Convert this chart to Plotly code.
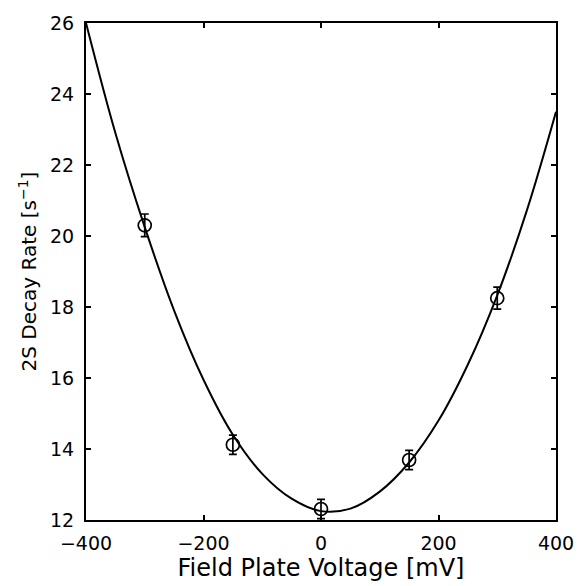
import plotly.graph_objects as go

# Measured data points (field plate voltage in mV, decay rate in s^-1)
voltage = [-300, -150, 0, 150, 300]
rate = [20.3, 14.12, 12.31, 13.69, 18.25]
rate_err = [0.32, 0.27, 0.27, 0.27, 0.31]

# Fit curve
curve_v = [-400, -350, -300, -250, -200, -150, -100, -50, 0, 50, 100, 150, 200, 250, 300, 350, 400]
curve_r = [26.0, 22.9, 20.25, 17.9, 15.95, 14.4, 13.3, 12.6, 12.25, 12.32, 12.8, 13.62, 14.8, 16.38, 18.33, 20.7, 23.5]

x_ticks = [-400, -200, 0, 200, 400]
y_ticks = [12, 14, 16, 18, 20, 22, 24, 26]

FONT = "DejaVu Sans"

fig = go.Figure()
fig.add_trace(go.Scatter(
    x=curve_v, y=curve_r, mode="lines",
    line=dict(color="black", width=2, shape="spline", smoothing=1.0),
    showlegend=False, hoverinfo="skip",
))
fig.add_trace(go.Scatter(
    x=voltage, y=rate, mode="markers",
    marker=dict(symbol="circle-open", size=13, color="black", line=dict(width=1.7, color="black")),
    error_y=dict(type="data", array=rate_err, visible=True, color="black", thickness=1.7, width=4),
    showlegend=False,
))

axis_common = dict(
    showline=True, linecolor="black", linewidth=2, mirror="ticks",
    ticks="inside", ticklen=5, tickwidth=1.5, tickcolor="black",
    showgrid=False, zeroline=False,
    tickfont=dict(family=FONT, size=19, color="black"),
)

fig.update_layout(
    width=586, height=586,
    margin=dict(l=86, r=21, t=19, b=53),
    paper_bgcolor="white", plot_bgcolor="white",
    xaxis=dict(
        range=[-400, 400], tickvals=x_ticks,
        title=dict(text="Field Plate Voltage [mV]", font=dict(family=FONT, size=24, color="black"), standoff=3),
        ticklabelstandoff=5,
        **axis_common,
    ),
    yaxis=dict(
        range=[12, 26], tickvals=y_ticks,
        title=dict(text="2S Decay Rate [s<sup>\u22121</sup>]", font=dict(family=FONT, size=20, color="black"), standoff=8),
        ticklabelstandoff=6,
        **axis_common,
    ),
)

fig.write_html("out.html")
